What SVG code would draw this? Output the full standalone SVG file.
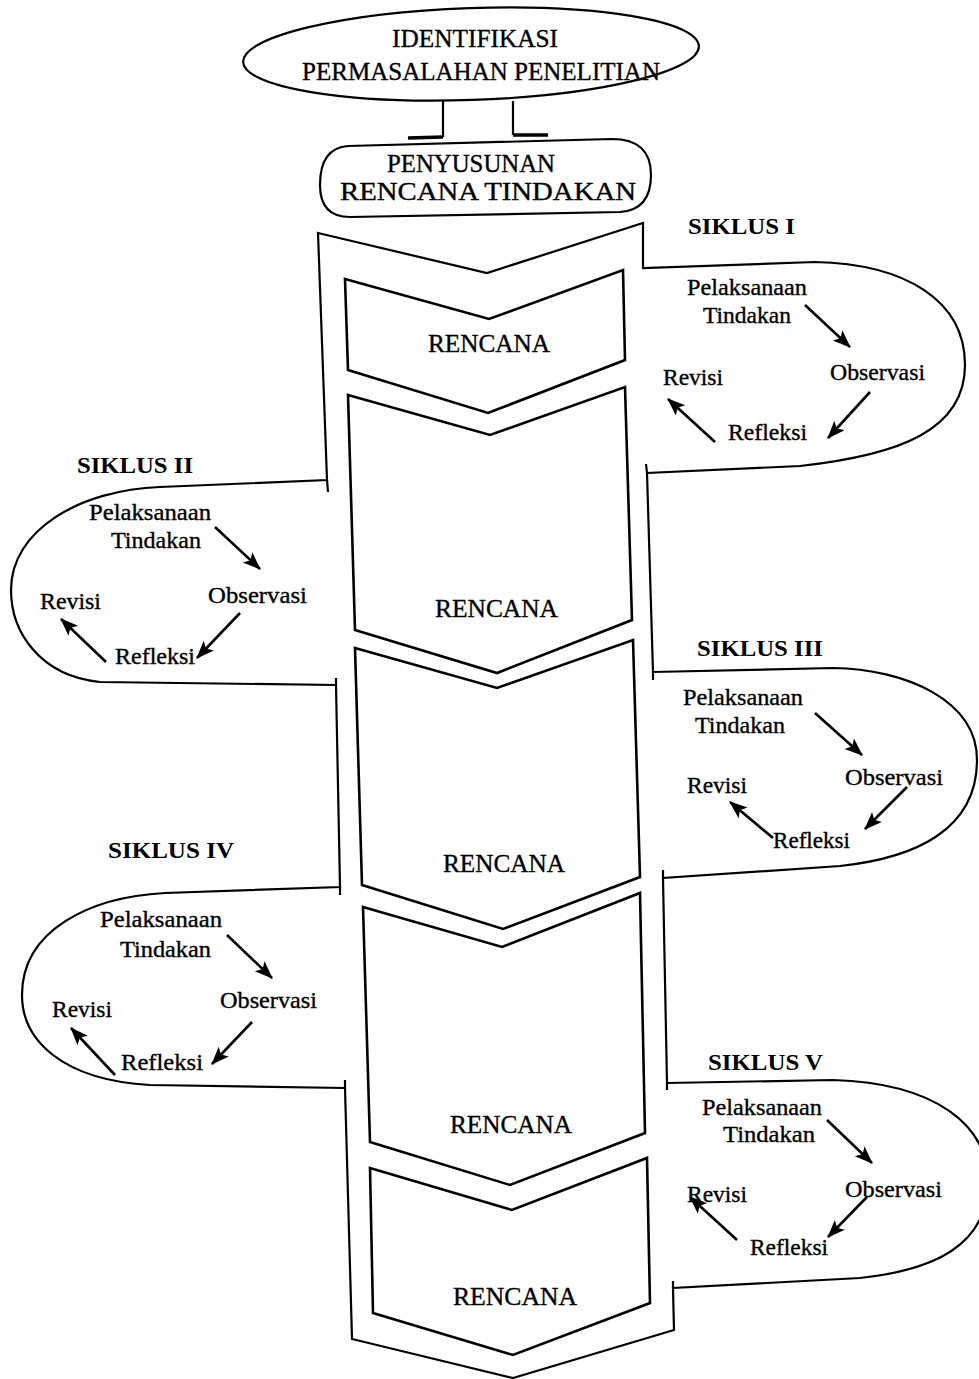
<svg xmlns="http://www.w3.org/2000/svg" width="979" height="1379" viewBox="0 0 979 1379">
<style>
  .ln { fill: none; stroke: #000; stroke-width: 2.2; stroke-linejoin: miter; }
  .box { fill: #fff; stroke: #000; stroke-width: 2.6; stroke-linejoin: miter; }
  .t { font-family: "Liberation Serif", "Times New Roman", serif; font-size: 23px; fill: #000; stroke: #000; stroke-width: 0.35; }
  .cap { font-family: "Liberation Serif", "Times New Roman", serif; font-size: 25px; fill: #000; stroke: #000; stroke-width: 0.35; }
  .sk { font-family: "Liberation Serif", "Times New Roman", serif; font-size: 24px; font-weight: bold; fill: #000; }
  .ar { fill: none; stroke: #000; stroke-width: 2.6; marker-end: url(#ah); }
</style>
<defs>
  <marker id="ah" markerUnits="userSpaceOnUse" markerWidth="20" markerHeight="16" refX="17" refY="7" orient="auto">
    <path d="M0,0 L18,7 L0,14 L4,7 Z" fill="#000"/>
  </marker>
</defs>
<rect width="979" height="1379" fill="#fff"/>

<!-- outer column with cycle loops -->
<g id="column">
  <path class="ln" d="M318,233 L487,273 L643,223 L643,268 L815,262 C905,264 965,300 965,365 C965,430 900,455 800,466 L647,473 L653,672 L833,668 C905,669 977,700 977,760 C977,830 915,858 840,866 L663,878 L667,1083 L833,1080 C935,1083 990,1125 988,1185 C986,1245 935,1270 860,1278 L673,1288 L674,1330 L513,1378 L352,1339 L345,1088 L150,1085 C62,1080 22,1040 22,995 C22,930 90,897 165,893 L340,887 L336,685 L100,682 C40,676 11,632 11,590 C11,530 80,490 160,487 L327,480 Z"/>
  <path class="ln" d="M327,480 L328,492 M336,685 L336,678 M647,473 L646,464 M653,672 L653,680 M663,878 L663,870 M340,887 L340,895 M345,1088 L345,1080 M667,1083 L667,1090 M673,1288 L673,1281"/>
</g>

<!-- top nodes -->
<g id="identifikasi">
  <ellipse cx="471" cy="54" rx="228" ry="46" transform="rotate(-2 471 54)" class="ln"/>
  <text class="cap" x="392" y="47" font-size="26" textLength="166" lengthAdjust="spacingAndGlyphs">IDENTIFIKASI</text>
  <text class="cap" x="302" y="80" textLength="358" lengthAdjust="spacingAndGlyphs">PERMASALAHAN PENELITIAN</text>
</g>
<g id="penyusunan">
  <path class="ln" d="M348,146 L612,139 Q651,139 651,175 Q651,210 620,212 L350,217 Q320,217 320,185 Q320,148 348,146 Z"/>
  <text class="cap" x="387" y="172" textLength="168" lengthAdjust="spacingAndGlyphs">PENYUSUNAN</text>
  <text class="cap" x="340" y="200" textLength="296" lengthAdjust="spacingAndGlyphs">RENCANA TINDAKAN</text>
</g>

<!-- RENCANA boxes -->
<g id="rencana1">
  <path class="box" d="M345,279 L489,319 L623,270 L625,360 L488,413 L348,370 Z"/>
  <text class="cap" x="428" y="352" textLength="122" lengthAdjust="spacingAndGlyphs">RENCANA</text>
</g>
<g id="rencana2">
  <path class="box" d="M348,395 L490,435 L625,387 L632,620 L497,673 L355,630 Z"/>
  <text class="cap" x="435" y="617" textLength="123" lengthAdjust="spacingAndGlyphs">RENCANA</text>
</g>
<g id="rencana3">
  <path class="box" d="M355,648 L497,688 L633,640 L640,877 L503,929 L362,885 Z"/>
  <text class="cap" x="443" y="872" textLength="122" lengthAdjust="spacingAndGlyphs">RENCANA</text>
</g>
<g id="rencana4">
  <path class="box" d="M363,907 L502,947 L640,893 L645,1133 L510,1185 L370,1142 Z"/>
  <text class="cap" x="450" y="1133" textLength="122" lengthAdjust="spacingAndGlyphs">RENCANA</text>
</g>
<g id="rencana5">
  <path class="box" d="M370,1168 L512,1210 L647,1158 L650,1303 L513,1355 L373,1313 Z"/>
  <text class="cap" x="453" y="1305" textLength="124" lengthAdjust="spacingAndGlyphs">RENCANA</text>
</g>

<!-- cycles -->
<g id="siklus1">
  <text class="sk" x="688" y="234" textLength="107" lengthAdjust="spacingAndGlyphs">SIKLUS I</text>
  <text class="t" x="687" y="295" textLength="120" lengthAdjust="spacingAndGlyphs">Pelaksanaan</text>
  <text class="t" x="703" y="323" textLength="88" lengthAdjust="spacingAndGlyphs">Tindakan</text>
  <text class="t" x="830" y="380" textLength="95" lengthAdjust="spacingAndGlyphs">Observasi</text>
  <text class="t" x="663" y="385" textLength="60" lengthAdjust="spacingAndGlyphs">Revisi</text>
  <text class="t" x="728" y="440" textLength="79" lengthAdjust="spacingAndGlyphs">Refleksi</text>
</g>
<g id="siklus2">
  <text class="sk" x="77" y="473" textLength="116" lengthAdjust="spacingAndGlyphs">SIKLUS II</text>
  <text class="t" x="89" y="520" textLength="122" lengthAdjust="spacingAndGlyphs">Pelaksanaan</text>
  <text class="t" x="111" y="548" textLength="90" lengthAdjust="spacingAndGlyphs">Tindakan</text>
  <text class="t" x="208" y="603" textLength="99" lengthAdjust="spacingAndGlyphs">Observasi</text>
  <text class="t" x="40" y="609" textLength="61" lengthAdjust="spacingAndGlyphs">Revisi</text>
  <text class="t" x="115" y="664" textLength="80" lengthAdjust="spacingAndGlyphs">Refleksi</text>
</g>
<g id="siklus3">
  <text class="sk" x="697" y="656" textLength="126" lengthAdjust="spacingAndGlyphs">SIKLUS III</text>
  <text class="t" x="683" y="705" textLength="120" lengthAdjust="spacingAndGlyphs">Pelaksanaan</text>
  <text class="t" x="695" y="733" textLength="90" lengthAdjust="spacingAndGlyphs">Tindakan</text>
  <text class="t" x="845" y="785" textLength="98" lengthAdjust="spacingAndGlyphs">Observasi</text>
  <text class="t" x="687" y="793" textLength="60" lengthAdjust="spacingAndGlyphs">Revisi</text>
  <text class="t" x="773" y="848" textLength="77" lengthAdjust="spacingAndGlyphs">Refleksi</text>
</g>
<g id="siklus4">
  <text class="sk" x="108" y="858" textLength="126" lengthAdjust="spacingAndGlyphs">SIKLUS IV</text>
  <text class="t" x="100" y="927" textLength="122" lengthAdjust="spacingAndGlyphs">Pelaksanaan</text>
  <text class="t" x="120" y="957" textLength="91" lengthAdjust="spacingAndGlyphs">Tindakan</text>
  <text class="t" x="220" y="1008" textLength="97" lengthAdjust="spacingAndGlyphs">Observasi</text>
  <text class="t" x="52" y="1017" textLength="60" lengthAdjust="spacingAndGlyphs">Revisi</text>
  <text class="t" x="121" y="1070" textLength="82" lengthAdjust="spacingAndGlyphs">Refleksi</text>
</g>
<g id="siklus5">
  <text class="sk" x="708" y="1070" textLength="115" lengthAdjust="spacingAndGlyphs">SIKLUS V</text>
  <text class="t" x="702" y="1115" textLength="120" lengthAdjust="spacingAndGlyphs">Pelaksanaan</text>
  <text class="t" x="723" y="1142" textLength="92" lengthAdjust="spacingAndGlyphs">Tindakan</text>
  <text class="t" x="845" y="1197" textLength="97" lengthAdjust="spacingAndGlyphs">Observasi</text>
  <text class="t" x="687" y="1202" textLength="60" lengthAdjust="spacingAndGlyphs">Revisi</text>
  <text class="t" x="750" y="1255" textLength="78" lengthAdjust="spacingAndGlyphs">Refleksi</text>
</g>

<!-- connectors -->
<g id="connectors">
  <path class="ln" d="M443,101 L443,137 M513,101 L513,135"/>
  <path fill="none" stroke="#000" stroke-width="3.5" d="M408,138 L443,137 M513,135 L548,135"/>
  <path class="ar" d="M805,305 L850,347"/>
  <path class="ar" d="M870,392 L828,438"/>
  <path class="ar" d="M715,442 L668,399"/>
  <path class="ar" d="M215,527 L260,569"/>
  <path class="ar" d="M240,613 L197,658"/>
  <path class="ar" d="M106,662 L61,619"/>
  <path class="ar" d="M815,713 L862,755"/>
  <path class="ar" d="M907,787 L865,829"/>
  <path class="ar" d="M773,838 L730,802"/>
  <path class="ar" d="M227,935 L272,978"/>
  <path class="ar" d="M252,1022 L212,1064"/>
  <path class="ar" d="M115,1075 L71,1028"/>
  <path class="ar" d="M827,1120 L872,1163"/>
  <path class="ar" d="M867,1197 L828,1237"/>
  <path class="ar" d="M737,1240 L690,1197"/>
</g>
</svg>
